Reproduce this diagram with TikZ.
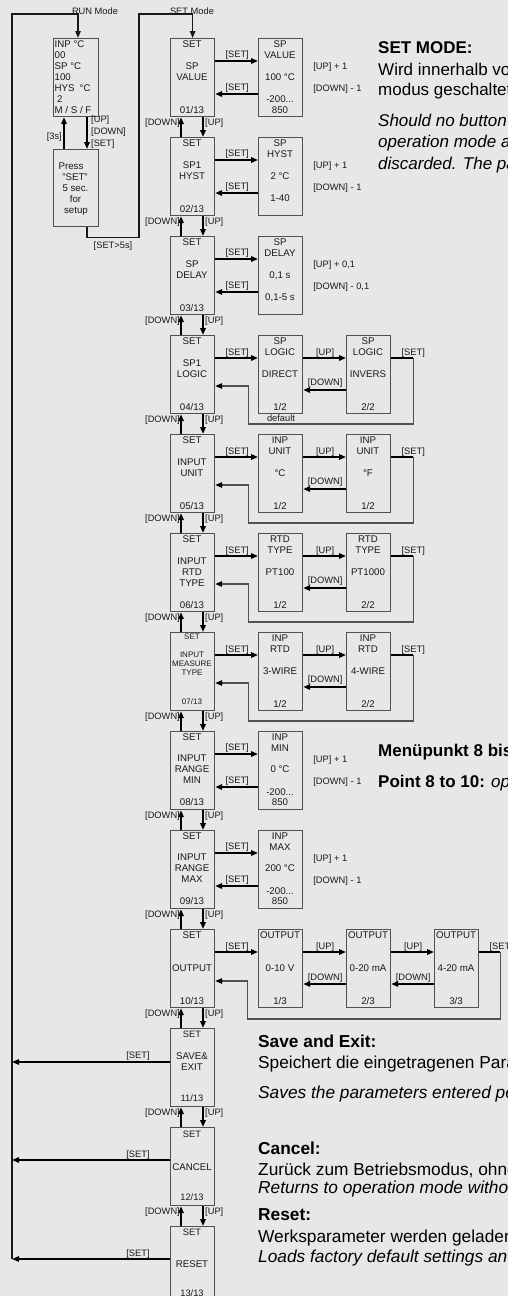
\documentclass[tikz,border=0pt]{standalone}
\usepackage{fontspec}
\setmainfont{Liberation Sans}
\usetikzlibrary{arrows.meta,calc}
\definecolor{bg}{RGB}{230,231,233}
\definecolor{bord}{RGB}{80,80,80}
\definecolor{ink}{RGB}{25,25,25}
\newcounter{tc}
\newcommand{\Txt}[4][]{\stepcounter{tc}\node[btxt,#1] (t\arabic{tc}) at (#2,#3) {#4};}
\newcommand{\Lbl}[4][]{\stepcounter{tc}\node[lbl,#1] (t\arabic{tc}) at (#2,#3) {#4};}
\newcommand{\Ann}[4][]{\stepcounter{tc}\node[ann,#1] (t\arabic{tc}) at (#2,#3) {#4};}
% row with one value box
\newcommand{\RowA}[3]{%
 \draw[arr] ($(m#1.north east)+(0,23)$) -- ($(a#1.north west)+(0,23)$);
 \draw[arr] ($(a#1.north west)+(0,56)$) -- ($(m#1.north east)+(0,56)$);
 \node[lbl] (sa#1) at ($(m#1.north east)+(22,16)$) {[SET]};
 \node[lbl] (sb#1) at ($(m#1.north east)+(22,49)$) {[SET]};
 \node[lbl,anchor=west] (up#1) at ($(a#1.north east)+(10,28)$) {#2};
 \node[lbl,anchor=west] (dn#1) at ($(a#1.north east)+(10,50)$) {#3};
}
% row with two option boxes
\newcommand{\RowB}[1]{%
 \draw[arr] ($(m#1.north east)+(0,23)$) -- ($(a#1.north west)+(0,23)$);
 \draw[arr] ($(a#1.north east)+(0,23)$) -- ($(b#1.north west)+(0,23)$);
 \draw[arr] ($(b#1.north west)+(0,55)$) -- ($(a#1.north east)+(0,55)$);
 \draw[seg] ($(b#1.north east)+(0,23)$) -- ($(b#1.north east)+(22,23)$);
 \draw[ret] ($(b#1.north east)+(22,23)$) -- ($(b#1.north east)+(22,89)$) -- ($(m#1.north east)+(33,89)$) -- ($(m#1.north east)+(33,51)$) -- ($(m#1.north east)+(0,51)$);
 \node[lbl] (sa#1) at ($(m#1.north east)+(22,17)$) {[SET]};
 \node[lbl] (ua#1) at ($(a#1.north east)+(22,17)$) {[UP]};
 \node[lbl] (da#1) at ($(a#1.north east)+(22,47)$) {[DOWN]};
 \node[lbl] (sr#1) at ($(b#1.north east)+(22,17)$) {[SET]};
}
\begin{document}
\begin{tikzpicture}[x=1pt,y=-1pt,
  bx/.style={draw=bord,line width=1.2pt,minimum width=44pt,minimum height=78pt,inner sep=0pt,anchor=north west},
  btxt/.style={inner sep=0pt,text=ink,font=\fontsize{9.7}{11}\selectfont,text height=7pt,text depth=0pt},
  lbl/.style={inner sep=0pt,text=ink,font=\fontsize{9.3}{11}\selectfont,text height=6.7pt,text depth=0pt},
  sml/.style={font=\fontsize{8}{9}\selectfont,text height=5.8pt},
  ann/.style={inner sep=0pt,text=black,font=\fontsize{17}{20}\selectfont,anchor=base west},
  annb/.style={font=\fontsize{17.3}{20}\selectfont},
  arr/.style={draw=black,line width=1.8pt,-{Triangle[length=7pt,width=5.5pt]}},
  seg/.style={draw=black,line width=1.8pt},
  ret/.style={draw=bord,line width=1.3pt,-{Triangle[length=7pt,width=5.5pt,color=black]}},
  outerln/.style={draw=ink,line width=1.3pt},
]
\useasboundingbox (0,0) rectangle (508,1296);
\clip (0,0) rectangle (508,1296);
\fill[bg] (0,0) rectangle (508,1296);

% ---------- run mode column
\node[bx,minimum width=45pt,minimum height=78pt] (disp) at (53,38) {};
\node[bx,minimum width=45pt,minimum height=77pt] (press) at (53,149) {};
\Txt[anchor=west]{54.5}{44}{INP °C}
\Txt[anchor=west]{54.5}{55}{00}
\Txt[anchor=west]{54.5}{66}{SP °C}
\Txt[anchor=west]{54.5}{77}{100}
\Txt[anchor=west]{54.5}{88}{HYS\hspace{5pt}°C}
\Txt[anchor=west]{54.5}{99}{\hspace{2.5pt}2}
\Txt[anchor=west]{54.5}{110}{M / S / F}
\Txt{71}{166}{Press}
\Txt{75}{177}{"SET"}
\Txt{75.5}{188}{5 sec.}
\Txt{75.5}{199}{for}
\Txt{76}{210}{setup}
\draw[arr] ($(press.north west)+(11,0)$) -- ($(disp.south west)+(11,0)$);
\draw[arr] ($(disp.south west)+(34,0)$) -- ($(press.north west)+(34,0)$);
\Lbl[anchor=east]{62}{136}{[3s]}
\Lbl[anchor=west]{91}{119}{[UP]}
\Lbl[anchor=west]{91}{131}{[DOWN]}
\Lbl[anchor=west]{91}{143}{[SET]}

% ---------- main column boxes
\foreach \i/\T in {1/38,2/137,3/236,4/335,5/434,6/533,7/632,8/731,9/830,10/929,11/1028,12/1127,13/1226}
  {\node[bx] (m\i) at (170,\T) {};}
% sub boxes
\foreach \i/\T in {1/38,2/137,3/236,4/335,5/434,6/533,7/632,8/731,9/830,10/929}
  {\node[bx] (a\i) at (258,\T) {};}
\foreach \i/\T in {4/335,5/434,6/533,7/632,10/929}
  {\node[bx] (b\i) at (346,\T) {};}
\node[bx] (c10) at (434,929) {};

% outer loop lines
\coordinate (L11) at (12,1062);
\coordinate (L12) at (12,1160);
\coordinate (L13) at (12,1259);
\coordinate (c1) at (12,14);
\coordinate (sm) at (139,14);
\draw[outerln,-{Triangle[length=7pt,width=5.5pt]}] (L13) -- (c1) -| ($(disp.north west)+(25,0)$);
\draw[outerln,-{Triangle[length=7pt,width=5.5pt]}] ($(press.south west)+(34,0)$) -- ++(0,10) -| (sm) -| (m1.north);
\Lbl{95}{11}{RUN Mode}
\Lbl{192}{11}{SET Mode}
\Lbl{113}{245}{[SET>5s]}

% vertical arrows between main boxes
\foreach \i [evaluate=\i as \j using int(\i+1)] in {1,...,12} {
  \draw[arr] ($(m\j.north west)+(11,0)$) -- ($(m\i.south west)+(11,0)$);
  \draw[arr] ($(m\i.south west)+(33,0)$) -- ($(m\j.north west)+(33,0)$);
  \node[lbl,anchor=east] (dl\i) at ($(m\i.south west)+(10,5)$) {[DOWN]};
  \node[lbl,anchor=west] (ul\i) at ($(m\i.south west)+(35,5)$) {[UP]};
}

% ---------- main box texts
\Txt{192}{44}{SET}\Txt{192}{66}{SP}\Txt{192}{77}{VALUE}\Txt{192}{110}{01/13}
\Txt{192}{143}{SET}\Txt{192}{165}{SP1}\Txt{192}{176}{HYST}\Txt{192}{209}{02/13}
\Txt{192}{242}{SET}\Txt{192}{264}{SP}\Txt{192}{275}{DELAY}\Txt{192}{308}{03/13}
\Txt{192}{341}{SET}\Txt{192}{363}{SP1}\Txt{192}{374}{LOGIC}\Txt{192}{407}{04/13}
\Txt{192}{440}{SET}\Txt{192}{462}{INPUT}\Txt{192}{473}{UNIT}\Txt{192}{506}{05/13}
\Txt{192}{539}{SET}\Txt{192}{561}{INPUT}\Txt{192}{572}{RTD}\Txt{192}{583}{TYPE}\Txt{192}{605}{06/13}
\Txt[sml]{192}{637}{SET}\Txt[sml]{192}{655}{INPUT}\Txt[sml]{192}{664}{MEASURE}\Txt[sml]{192}{673}{TYPE}\Txt[sml]{192}{702}{07/13}
\Txt{192}{737}{SET}\Txt{192}{758}{INPUT}\Txt{192}{769}{RANGE}\Txt{192}{780}{MIN}\Txt{192}{802}{08/13}
\Txt{192}{836}{SET}\Txt{192}{857}{INPUT}\Txt{192}{868}{RANGE}\Txt{192}{879}{MAX}\Txt{192}{901}{09/13}
\Txt{192}{935}{SET}\Txt{192}{968}{OUTPUT}\Txt{192}{1001}{10/13}
\Lbl{192}{1034}{SET}\Txt{192}{1056}{SAVE\&}\Txt{192}{1067}{EXIT}\Lbl{192}{1098}{11/13}
\Lbl{192}{1134}{SET}\Txt{192}{1167}{CANCEL}\Lbl{192}{1197}{12/13}
\Lbl{192}{1232}{SET}\Txt{192}{1264}{RESET}\Lbl{192}{1293}{13/13}

% ---------- sub box texts
\Txt{280}{44}{SP}\Txt{280}{55}{VALUE}\Txt{280}{77}{100 °C}\Txt{280}{99}{-200...}\Txt{280}{110}{850}
\Txt{280}{143}{SP}\Txt{280}{154}{HYST}\Txt{280}{176}{2 °C}\Txt{280}{198}{1-40}
\Txt{280}{242}{SP}\Txt{280}{253}{DELAY}\Txt{280}{275}{0,1 s}\Txt{280}{297}{0,1-5 s}
\Txt{280}{341}{SP}\Txt{280}{352}{LOGIC}\Txt{280}{374}{DIRECT}\Txt{280}{407}{1/2}
\Lbl{281}{418}{default}
\Txt{368}{341}{SP}\Txt{368}{352}{LOGIC}\Txt{368}{374}{INVERS}\Txt{368}{407}{2/2}
\Txt{280}{440}{INP}\Txt{280}{451}{UNIT}\Txt{280}{473}{°C}\Txt{280}{506}{1/2}
\Txt{368}{440}{INP}\Txt{368}{451}{UNIT}\Txt{368}{473}{°F}\Txt{368}{506}{1/2}
\Txt{280}{539}{RTD}\Txt{280}{550}{TYPE}\Txt{280}{572}{PT100}\Txt{280}{605}{1/2}
\Txt{368}{539}{RTD}\Txt{368}{550}{TYPE}\Txt{368}{572}{PT1000}\Txt{368}{605}{2/2}
\Txt{280}{638}{INP}\Txt{280}{649}{RTD}\Txt{280}{671}{3-WIRE}\Txt{280}{704}{1/2}
\Txt{368}{638}{INP}\Txt{368}{649}{RTD}\Txt{368}{671}{4-WIRE}\Txt{368}{704}{2/2}
\Txt{280}{737}{INP}\Txt{280}{748}{MIN}\Txt{280}{769}{0 °C}\Txt{280}{792}{-200...}\Txt{280}{802}{850}
\Txt{280}{836}{INP}\Txt{280}{847}{MAX}\Txt{280}{868}{200 °C}\Txt{280}{891}{-200...}\Txt{280}{901}{850}
\Txt{280}{935}{OUTPUT}\Txt{280}{968}{0-10 V}\Txt{280}{1001}{1/3}
\Txt{368}{935}{OUTPUT}\Txt{368}{968}{0-20 mA}\Txt{368}{1001}{2/3}
\Txt{456}{935}{OUTPUT}\Txt{456}{968}{4-20 mA}\Txt{456}{1001}{3/3}

% ---------- row connectors
\RowA{1}{[UP] + 1}{[DOWN] - 1}
\RowA{2}{[UP] + 1}{[DOWN] - 1}
\RowA{3}{[UP] + 0,1}{[DOWN] - 0,1}
\RowB{4}
\RowB{5}
\RowB{6}
\RowB{7}
\RowA{8}{[UP] + 1}{[DOWN] - 1}
\RowA{9}{[UP] + 1}{[DOWN] - 1}
% output row
\draw[arr] ($(m10.north east)+(0,23)$) -- ($(a10.north west)+(0,23)$);
\draw[arr] ($(a10.north east)+(0,23)$) -- ($(b10.north west)+(0,23)$);
\draw[arr] ($(b10.north east)+(0,23)$) -- ($(c10.north west)+(0,23)$);
\draw[arr] ($(b10.north west)+(0,55)$) -- ($(a10.north east)+(0,55)$);
\draw[arr] ($(c10.north west)+(0,55)$) -- ($(b10.north east)+(0,55)$);
\draw[seg] ($(c10.north east)+(0,23)$) -- ($(c10.north east)+(21,23)$);
\draw[ret] ($(c10.north east)+(21,23)$) -- ($(c10.north east)+(21,90)$) -- ($(m10.north east)+(32,90)$) -- ($(m10.north east)+(32,52)$) -- ($(m10.north east)+(0,52)$);
\node[lbl] (sa10) at ($(m10.north east)+(22,17)$) {[SET]};
\node[lbl] (ua10) at ($(a10.north east)+(22,17)$) {[UP]};
\node[lbl] (ub10) at ($(b10.north east)+(22,17)$) {[UP]};
\node[lbl] (da10) at ($(a10.north east)+(22,48)$) {[DOWN]};
\node[lbl] (db10) at ($(b10.north east)+(22,48)$) {[DOWN]};
\node[lbl] (sr10) at ($(c10.north east)+(22,17)$) {[SET]};

% exits to run mode
\draw[arr,line width=1.3pt] ($(m11.north west)+(0,34)$) -- (L11);
\draw[arr,line width=1.3pt] ($(m12.north west)+(0,33)$) -- (L12);
\draw[arr,line width=1.3pt] ($(m13.north west)+(0,33)$) -- (L13);
\Lbl{138}{1055}{[SET]}
\Lbl{138}{1154}{[SET]}
\Lbl{138}{1253}{[SET]}

% ---------- annotations
\Ann{378}{53}{\bfseries SET MODE:}
\Ann{378}{75}{Wird innerhalb von}
\Ann{378}{95}{modus geschaltet}
\Ann{378}{126}{\itshape Should no button}
\Ann{378}{147}{\itshape operation mode a}
\Ann{378}{169}{\itshape discarded. The pa}
\Ann{378}{756}{\bfseries Menüpunkt 8 bis}
\Ann{378}{787}{\textbf{Point 8 to 10:} \textit{op}}
\Ann[annb]{258}{1047}{\bfseries Save and Exit:}
\Ann[annb]{258}{1068}{Speichert die eingetragenen Para}
\Ann[annb]{258}{1098}{\itshape Saves the parameters entered pe}
\Ann[annb]{258}{1154}{\bfseries Cancel:}
\Ann[annb]{258}{1175}{Zurück zum Betriebsmodus, ohne}
\Ann[annb]{258}{1193}{\itshape Returns to operation mode witho}
\Ann[annb]{258}{1220}{\bfseries Reset:}
\Ann[annb]{258}{1242}{Werksparameter werden geladen}
\Ann[annb]{258}{1262}{\itshape Loads factory default settings an}
\end{tikzpicture}
\end{document}
